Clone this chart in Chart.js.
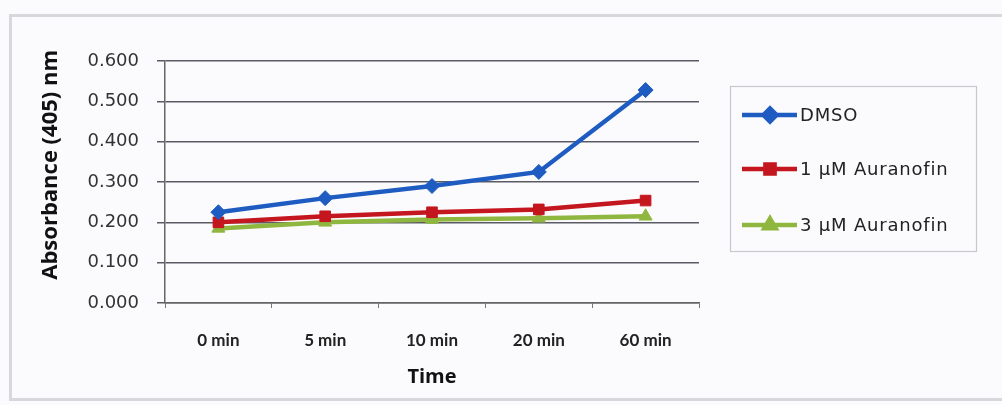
<!DOCTYPE html>
<html>
<head>
<meta charset="utf-8">
<script src="https://cdn.jsdelivr.net/npm/chart.js@4/dist/chart.umd.min.js"></script>
<style>
  html, body { margin: 0; padding: 0; background: #fbfbfd; }
  #wrap { position: relative; width: 1002px; height: 405px; }
  canvas { display: block; }
</style>
</head>
<body>
<div id="wrap"><canvas id="c" width="1002" height="405"></canvas></div>
<script>
const categories = ['0 min', '5 min', '10 min', '20 min', '60 min'];
const seriesNames = ['DMSO', '1 \u00b5M Auranofin', '3 \u00b5M Auranofin'];
const dmso = [0.225, 0.260, 0.290, 0.325, 0.528];
const aur1 = [0.200, 0.215, 0.225, 0.232, 0.254];
const aur3 = [0.185, 0.200, 0.207, 0.210, 0.215];
const yTicks = [0, 0.1, 0.2, 0.3, 0.4, 0.5, 0.6];
const xTitle = 'Time';
const yTitle = 'Absorbance (405) nm';

const colors = ['#1f5cc2', '#c4161e', '#8fb73f'];
const shapes = ['rectRot', 'rect', 'triangle'];
const radii = [7.5, 7.5, 7.5];

const frame = {
  id: 'frame',
  beforeDraw(chart) {
    const ctx = chart.ctx;
    ctx.save();
    ctx.fillStyle = '#fbfbfd';
    ctx.fillRect(0, 0, chart.width, chart.height);
    ctx.strokeStyle = '#d8d8dc';
    ctx.lineWidth = 3;
    ctx.beginPath();
    ctx.moveTo(1010, 15.5);
    ctx.lineTo(10.5, 15.5);
    ctx.lineTo(10.5, 399.5);
    ctx.lineTo(1010, 399.5);
    ctx.stroke();
    ctx.restore();
  }
};

const legendBox = {
  id: 'legendBox',
  afterDraw(chart) {
    const ctx = chart.ctx;
    ctx.save();
    ctx.strokeStyle = '#c8c8cc';
    ctx.lineWidth = 1.2;
    ctx.strokeRect(730.5, 86.5, 246, 165);
    const ys = [115, 169, 225];
    chart.data.datasets.forEach((ds, i) => {
      const y = ys[i];
      ctx.strokeStyle = ds.borderColor;
      ctx.lineWidth = 4.5;
      ctx.beginPath();
      ctx.moveTo(742, y);
      ctx.lineTo(797, y);
      ctx.stroke();
      ctx.fillStyle = ds.pointBackgroundColor;
      ctx.strokeStyle = ds.pointBorderColor;
      Chart.helpers.drawPoint(ctx, {pointStyle: ds.pointStyle, radius: 6.5, borderWidth: 1}, 770, y);
      ctx.fillStyle = '#222';
      ctx.font = '18px "DejaVu Sans", sans-serif';
      if ('letterSpacing' in ctx) ctx.letterSpacing = '0.8px';
      ctx.textBaseline = 'middle';
      ctx.textAlign = 'left';
      ctx.fillText(ds.label, 800, y + 1);
      if ('letterSpacing' in ctx) ctx.letterSpacing = '0px';
    });
    ctx.restore();
  }
};

const datasets = [dmso, aur1, aur3].map((vals, i) => ({
  label: seriesNames[i],
  data: vals,
  borderColor: colors[i],
  backgroundColor: colors[i],
  pointBackgroundColor: colors[i],
  pointBorderColor: colors[i],
  pointStyle: shapes[i],
  pointRadius: radii[i],
  pointBorderWidth: 1,
  borderWidth: 4.5,
  tension: 0,
  fill: false
}));
datasets[0].order = 0; datasets[1].order = 1; datasets[2].order = 2;

new Chart(document.getElementById('c'), {
  type: 'line',
  data: { labels: categories, datasets },
  options: {
    responsive: false,
    animation: false,
    devicePixelRatio: 1,
    layout: { padding: { left: 38, right: 303, top: 61, bottom: 4 } },
    plugins: { legend: { display: false }, tooltip: { enabled: false } },
    scales: {
      x: {
        offset: true,
        grid: { offset: true, drawOnChartArea: false, drawTicks: true, tickLength: 5, color: '#777', lineWidth: 1 },
        border: { color: '#666', width: 1.5 },
        ticks: { color: '#222', padding: 22, font: { family: 'Lato, "Open Sans", sans-serif', size: 17, weight: 'bold' } },
        title: { display: true, text: xTitle, color: '#111', padding: { top: 4, bottom: 12 }, font: { family: '"Open Sans", Lato, sans-serif', size: 20, weight: 'bold' } },
        afterFit(scale) { scale.height = 98; }
      },
      y: {
        min: 0, max: 0.6,
        afterBuildTicks(scale) { scale.ticks = yTicks.map(v => ({ value: v })); },
        grid: { color: '#5a5a66', lineWidth: 1.5, tickLength: 8 },
        border: { color: '#666', width: 1.5 },
        ticks: { color: '#333', padding: 18, font: { family: '"DejaVu Sans", sans-serif', size: 18 },
                 callback: v => Number(v).toFixed(3) },
        title: { display: true, text: '      ' + yTitle, color: '#111', padding: { top: 0, bottom: 8 }, font: { family: '"Open Sans", Lato, sans-serif', size: 22, weight: 'bold' } },
        afterFit(scale) { scale.width = 127; }
      }
    }
  },
  plugins: [frame, legendBox]
});
</script>
</body>
</html>
